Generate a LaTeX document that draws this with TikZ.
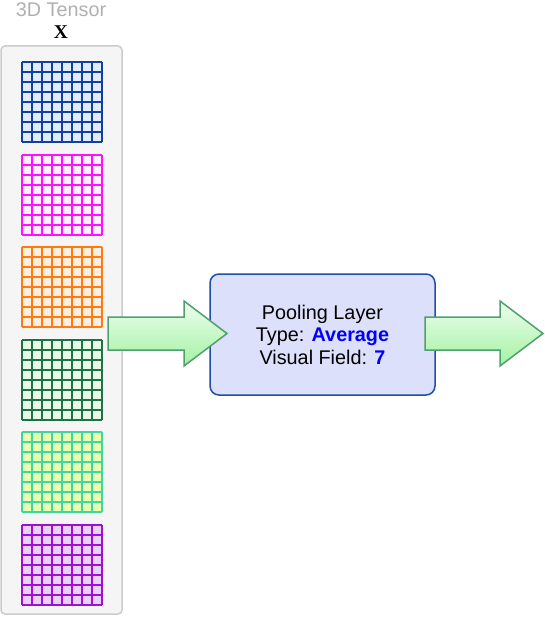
\documentclass[tikz,border=0pt]{standalone}
\usepackage{fontspec}
\setmainfont{Liberation Sans}
\newfontfamily\serifX{Liberation Serif}
\definecolor{panelfill}{HTML}{F5F5F5}
\definecolor{paneldraw}{HTML}{CCCCCC}
\definecolor{boxfill}{HTML}{DDE0FA}
\definecolor{boxdraw}{HTML}{1F4FA8}
\definecolor{arrdraw}{HTML}{4F9F6F}
\definecolor{arrtop}{HTML}{EEFEEE}
\definecolor{arrbot}{HTML}{A2F2A2}
\definecolor{gbS}{HTML}{13409E}\definecolor{gbF}{HTML}{E0EBFB}
\definecolor{gmS}{HTML}{FF10FF}\definecolor{gmF}{HTML}{FFEEFF}
\definecolor{goS}{HTML}{FF7A10}\definecolor{goF}{HTML}{FDEEE2}
\definecolor{ggS}{HTML}{1E7245}\definecolor{ggF}{HTML}{E6FAE6}
\definecolor{gyS}{HTML}{3FD69F}\definecolor{gyF}{HTML}{E8FFB0}
\definecolor{gpS}{HTML}{A010D0}\definecolor{gpF}{HTML}{E8D0F8}
\definecolor{titlegray}{HTML}{B0B0B0}
\tikzset{
  panel/.style={fill=panelfill,draw=paneldraw,line width=1.5pt,rounded corners=4pt},
  poolbox/.style={fill=boxfill,draw=boxdraw,line width=1.5pt,rounded corners=9pt},
  fatarrow/.style={draw=arrdraw,line width=1.5pt,shading angle=20,top color=arrtop,bottom color=arrbot},
  boxtext/.style={font=\fontsize{19.8}{22.5}\selectfont,align=center,text=black},
  gridline/.style={line width=1.6pt},
}
\begin{document}
\begin{tikzpicture}[x=1pt,y=-1pt]
\useasboundingbox (0,0) rectangle (544,617);
% panel
\draw[panel] (1,46) rectangle (122,614);
\node[text=titlegray,font=\fontsize{19.8}{22}\selectfont] (title) at (61,9.5) {3D Tensor};
\node[font=\serifX\bfseries\fontsize{19.5}{20}\selectfont] (xlabel) at (61,32.5) {X};
% grids
\foreach \yy/\cs/\cf in {62/gbS/gbF,155/gmS/gmF,247/goS/goF,340/ggS/ggF,432/gyS/gyF,525/gpS/gpF}{
  \fill[\cf] (22,\yy) rectangle (102,\yy+80);
  \foreach \i in {0,...,8}{
    \draw[\cs,gridline] (22+10*\i,\yy) -- (22+10*\i,\yy+80);
    \draw[\cs,gridline] (22,\yy+10*\i) -- (102,\yy+10*\i);
  }
}
% pooling box
\draw[poolbox] (210,274) rectangle (435,395);
\node[boxtext] (pool) at (322.5,334.5) {Pooling Layer\\Type: \textcolor{blue}{\bfseries Average}\\Visual Field: \textcolor{blue}{\bfseries 7}};
% arrows
\draw[fatarrow] (108,317) -- (184,317) -- (184,301) -- (227,333.5) -- (184,366) -- (184,350) -- (108,350) -- cycle;
\draw[fatarrow] (425,317) -- (500,317) -- (500,301) -- (543,333.5) -- (500,366) -- (500,350) -- (425,350) -- cycle;
\end{tikzpicture}
\end{document}
